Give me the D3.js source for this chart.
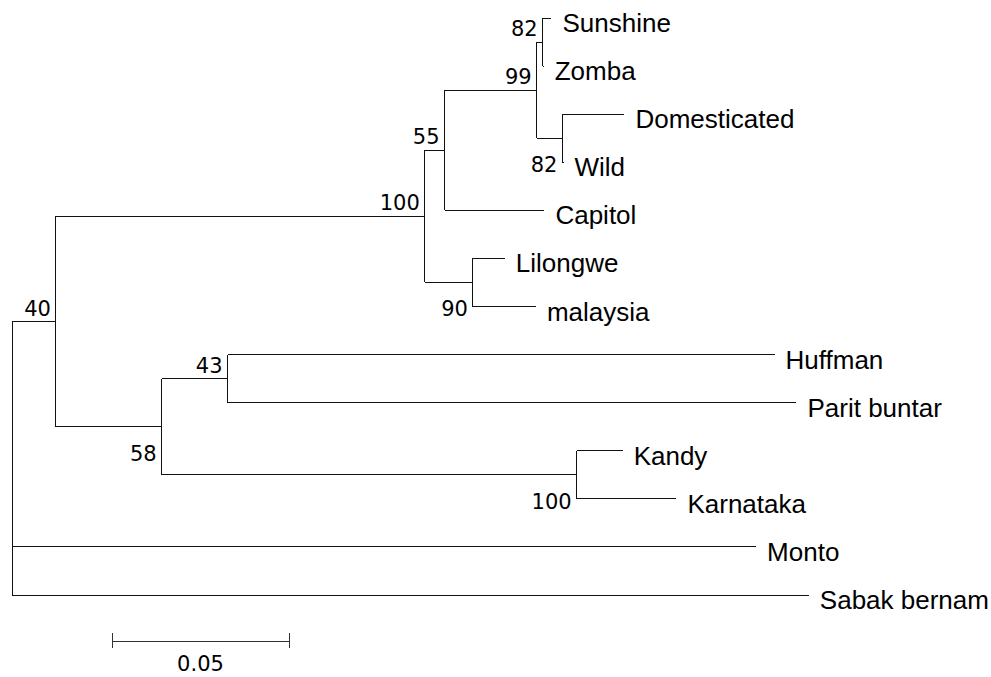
<!DOCTYPE html>
<html>
<head>
<meta charset="utf-8">
<script src="https://cdn.jsdelivr.net/npm/d3@7"></script>
<style>
  body { margin: 0; background: #fff; }
  svg { display: block; }
  .leaf { font-family: "Liberation Sans", Arial, sans-serif; font-size: 26px; fill: #000; }
  .boot { font-family: "DejaVu Sans", Verdana, sans-serif; font-size: 21px; fill: #000; }
  .scale-label { font-family: "DejaVu Sans", Verdana, sans-serif; font-size: 21px; fill: #000; }
</style>
</head>
<body>
<div id="chart"></div>
<script>
// tree topology (node id -> parent), branch lengths, bootstrap support
const ids = ["root","n40","n100a","n55","n99","n82a","Sunshine","Zomba","n82b","Domesticated","Wild","Capitol",
  "n90","Lilongwe","malaysia","n58","n43","Huffman","Parit buntar","n100b","Kandy","Karnataka","Monto","Sabak bernam"];
const parents = ["","root","n40","n100a","n55","n99","n82a","n82a","n99","n82b","n82b","n55",
  "n100a","n90","n90","n40","n58","n43","n43","n58","n100b","n100b","root","root"];
const lengths = [0,0.0124,0.1042,0.0056,0.0260,0.0017,0.0025,0.0003,0.0073,0.0175,0.0003,0.0282,
  0.0136,0.0090,0.0178,0.0299,0.0186,0.1545,0.1607,0.1172,0.0130,0.0282,0.2102,0.2251];
const support = [null,40,100,55,99,82,null,null,82,null,null,null,
  90,null,null,58,43,null,null,100,null,null,null,null];
const scaleBar = 0.05;
// bootstrap labels drawn under the node instead of above
const labelBelow = ["n82b","n90","n58","n100b"];

const W = 991, H = 677;
const svg = d3.select("#chart").append("svg").attr("width", W).attr("height", H);
svg.append("rect").attr("width", W).attr("height", H).attr("fill", "#fff");

const table = ids.map((id, i) => ({id, parent: parents[i] || null, len: lengths[i], boot: support[i]}));
const root = d3.stratify().id(d => d.id).parentId(d => d.parent)(table);

// cumulative distance from root
root.each(n => { n.dist = n.parent ? n.parent.dist + n.data.len : 0; });

const leaves = root.leaves().map(d => d.id);
const x = d3.scaleLinear().domain([0, scaleBar]).range([12, 189]);
const y = d3.scalePoint().domain(leaves).range([18, 595]);

root.eachAfter(n => {
  n.px = x(n.dist);
  if (n.children) {
    n.py = (n.children[0].py + n.children[n.children.length - 1].py) / 2;
  } else {
    n.py = y(n.id);
  }
});

const g = svg.append("g").attr("stroke", "#111").attr("stroke-width", 1)
  .attr("fill", "none").attr("shape-rendering", "crispEdges");

// horizontal branches
g.selectAll("path.h").data(root.descendants().filter(n => n.parent))
  .join("path").attr("class", "h")
  .attr("d", n => `M${n.parent.px},${n.py}H${n.px}`);

// vertical connectors
g.selectAll("path.v").data(root.descendants().filter(n => n.children))
  .join("path").attr("class", "v")
  .attr("d", n => `M${n.px},${n.children[0].py}V${n.children[n.children.length - 1].py}`);

// leaf names
svg.selectAll("text.leaf").data(root.leaves())
  .join("text").attr("class", "leaf")
  .attr("x", n => n.px + 11)
  .attr("y", n => n.py + 14)
  .text(n => n.id);

// bootstrap values
svg.selectAll("text.boot").data(root.descendants().filter(n => n.data.boot != null))
  .join("text").attr("class", "boot")
  .attr("text-anchor", "end")
  .attr("x", n => n.px - 5)
  .attr("y", n => labelBelow.includes(n.id) ? n.py + 34 : n.py - 6)
  .text(n => n.data.boot);

// scale bar
const sb = svg.append("g").attr("stroke", "#333").attr("shape-rendering", "crispEdges");
const sx0 = 112, sx1 = sx0 + (x(scaleBar) - x(0)), sy = 641;
sb.append("line").attr("x1", sx0).attr("x2", sx1).attr("y1", sy).attr("y2", sy);
sb.append("line").attr("x1", sx0).attr("x2", sx0).attr("y1", sy - 8).attr("y2", sy + 7);
sb.append("line").attr("x1", sx1).attr("x2", sx1).attr("y1", sy - 8).attr("y2", sy + 7);
svg.append("text").attr("class", "scale-label")
  .attr("x", (sx0 + sx1) / 2).attr("y", 671).attr("text-anchor", "middle")
  .text(scaleBar);
</script>
</body>
</html>
